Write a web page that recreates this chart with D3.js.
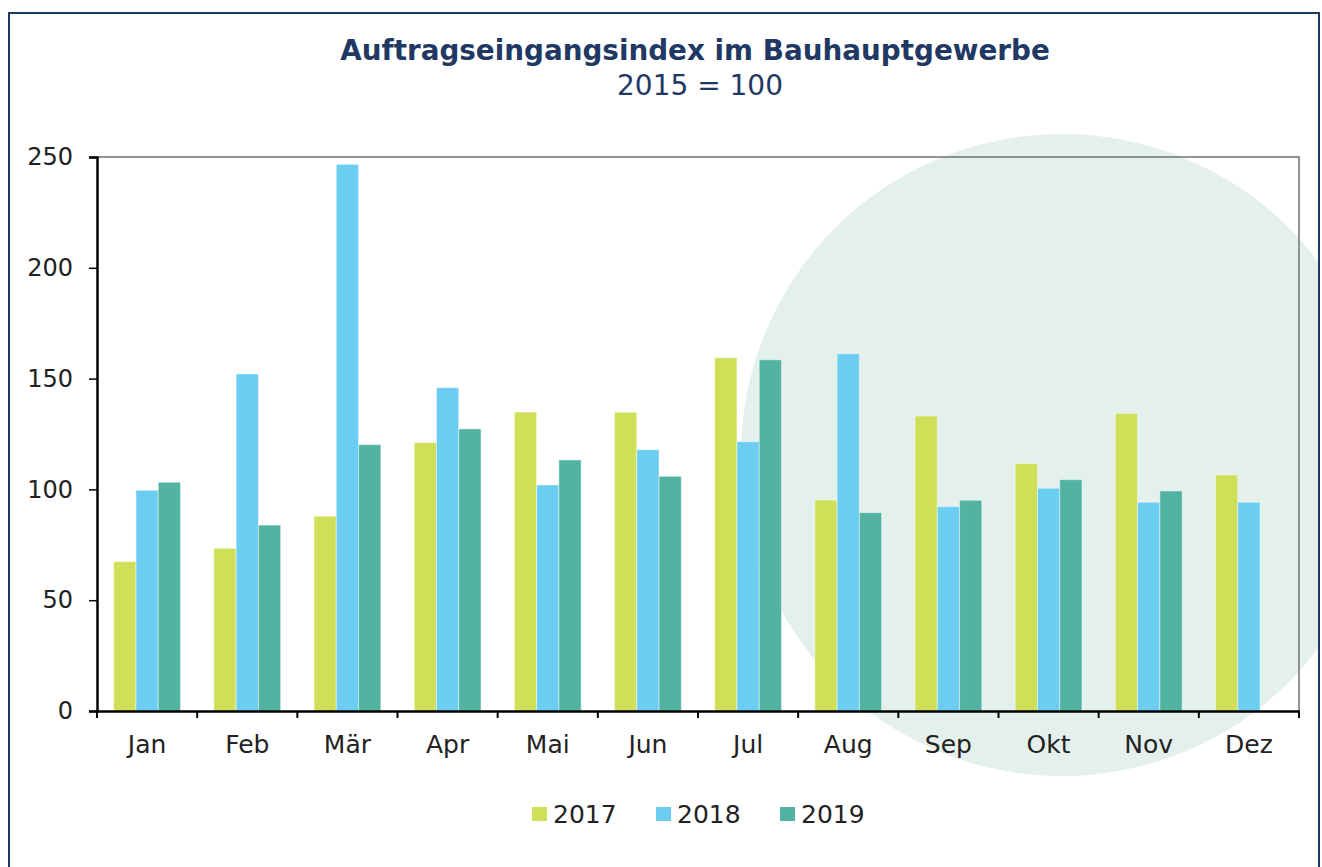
<!DOCTYPE html>
<html>
<head>
<meta charset="utf-8">
<script src="https://cdn.jsdelivr.net/npm/d3@7"></script>
<style>
  body { margin: 0; background: #fff; }
  svg { display: block; font-family: "DejaVu Sans", Verdana, sans-serif; }
</style>
</head>
<body>
<svg width="1322" height="867"></svg>
<script>
const months = ["Jan", "Feb", "Mär", "Apr", "Mai", "Jun", "Jul", "Aug", "Sep", "Okt", "Nov", "Dez"];
const years = ["2017", "2018", "2019"];
const v2017 = [67.4, 73.4, 87.9, 121.1, 134.9, 134.8, 159.4, 95.2, 133.1, 111.6, 134.3, 106.5];
const v2018 = [99.6, 152.1, 246.7, 145.9, 102.0, 117.9, 121.5, 161.2, 92.2, 100.5, 94.2, 94.2];
const v2019 = [103.2, 83.9, 120.2, 127.3, 113.3, 105.9, 158.5, 89.5, 95.1, 104.4, 99.3, null];
const yTicks = [0, 50, 100, 150, 200, 250];
const colors = ["#cfdf57", "#6acdf1", "#52b3a3"];

const series = [v2017, v2018, v2019];

const svg = d3.select("svg"),
  plotL = 97, plotR = 1299, plotT = 157, plotB = 711;

// clip for the decorative circle
svg.append("defs").append("clipPath").attr("id", "frame")
  .append("rect").attr("x", 9).attr("y", 13).attr("width", 1310).attr("height", 870);

svg.append("circle")
  .attr("clip-path", "url(#frame)")
  .attr("cx", 1062).attr("cy", 455).attr("r", 321)
  .attr("fill", "#e3f0eb");

// outer frame
svg.append("rect")
  .attr("x", 9).attr("y", 13).attr("width", 1310).attr("height", 880)
  .attr("fill", "none").attr("stroke", "#1f3864").attr("stroke-width", 2);

svg.append("text")
  .attr("x", 695).attr("y", 60)
  .attr("text-anchor", "middle")
  .attr("font-size", "27.8px").attr("font-weight", "bold")
  .attr("fill", "#1f3864")
  .text("Auftragseingangsindex im Bauhauptgewerbe");

svg.append("text")
  .attr("x", 700).attr("y", 95)
  .attr("text-anchor", "middle")
  .attr("font-size", "28px")
  .attr("fill", "#1f3864")
  .text("2015 = 100");

const x0 = d3.scaleBand().domain(months).range([plotL, plotR])
  .paddingInner(1 / 3).paddingOuter(1 / 6);
const x1 = d3.scaleBand().domain(years).range([0, x0.bandwidth()]);
const y = d3.scaleLinear().domain([0, 250]).range([plotB, plotT]);

// plot frame: top & right
svg.append("path")
  .attr("d", `M${plotL},${plotT}H${plotR}V${plotB}`)
  .attr("fill", "none").attr("stroke", "#707070").attr("stroke-width", 1.5);

const groups = svg.append("g").selectAll("g")
  .data(months)
  .join("g")
  .attr("transform", d => `translate(${x0(d)},0)`);

groups.selectAll("rect")
  .data((m, i) => years.map((yr, k) => ({ yr, k, v: series[k][i] })).filter(d => d.v != null))
  .join("rect")
  .attr("x", d => x1(d.yr))
  .attr("y", d => y(d.v))
  .attr("width", x1.bandwidth())
  .attr("height", d => plotB - y(d.v))
  .attr("fill", d => colors[d.k])
  .attr("stroke", "rgba(255,255,255,0.45)")
  .attr("stroke-width", 1);

// y axis
const yAxis = svg.append("g")
  .attr("transform", `translate(${plotL},0)`)
  .call(d3.axisLeft(y).tickValues(yTicks).tickSize(8).tickPadding(16));
yAxis.select(".domain").attr("stroke", "#000").attr("stroke-width", 2.5);
yAxis.selectAll(".tick line").attr("stroke", "#000").attr("stroke-width", 1.5);
yAxis.selectAll("text").attr("font-size", "24px").attr("fill", "#222")
  .attr("font-family", "DejaVu Sans, Verdana, sans-serif");

// x axis
const xAxis = svg.append("g")
  .attr("transform", `translate(0,${plotB})`)
  .call(d3.axisBottom(x0).tickSize(0).tickPadding(24));
xAxis.select(".domain").attr("stroke", "#000").attr("stroke-width", 2.5);
xAxis.selectAll("text").attr("font-size", "25px").attr("fill", "#222")
  .attr("font-family", "DejaVu Sans, Verdana, sans-serif");

const step = x0.step();
xAxis.selectAll(".sep")
  .data(d3.range(months.length + 1))
  .join("line")
  .attr("x1", i => plotL + i * step).attr("x2", i => plotL + i * step)
  .attr("y1", 0).attr("y2", 7)
  .attr("stroke", "#000").attr("stroke-width", 2);

// legend
const legendX = [532, 656, 780];
const legend = svg.append("g").selectAll("g")
  .data(years)
  .join("g")
  .attr("transform", (d, i) => `translate(${legendX[i]},807)`);
legend.append("rect")
  .attr("width", 15).attr("height", 14)
  .attr("fill", (d, i) => colors[i]);
legend.append("text")
  .attr("x", 21).attr("y", 16)
  .attr("font-size", "25px").attr("fill", "#222")
  .text(d => d);
</script>
</body>
</html>
